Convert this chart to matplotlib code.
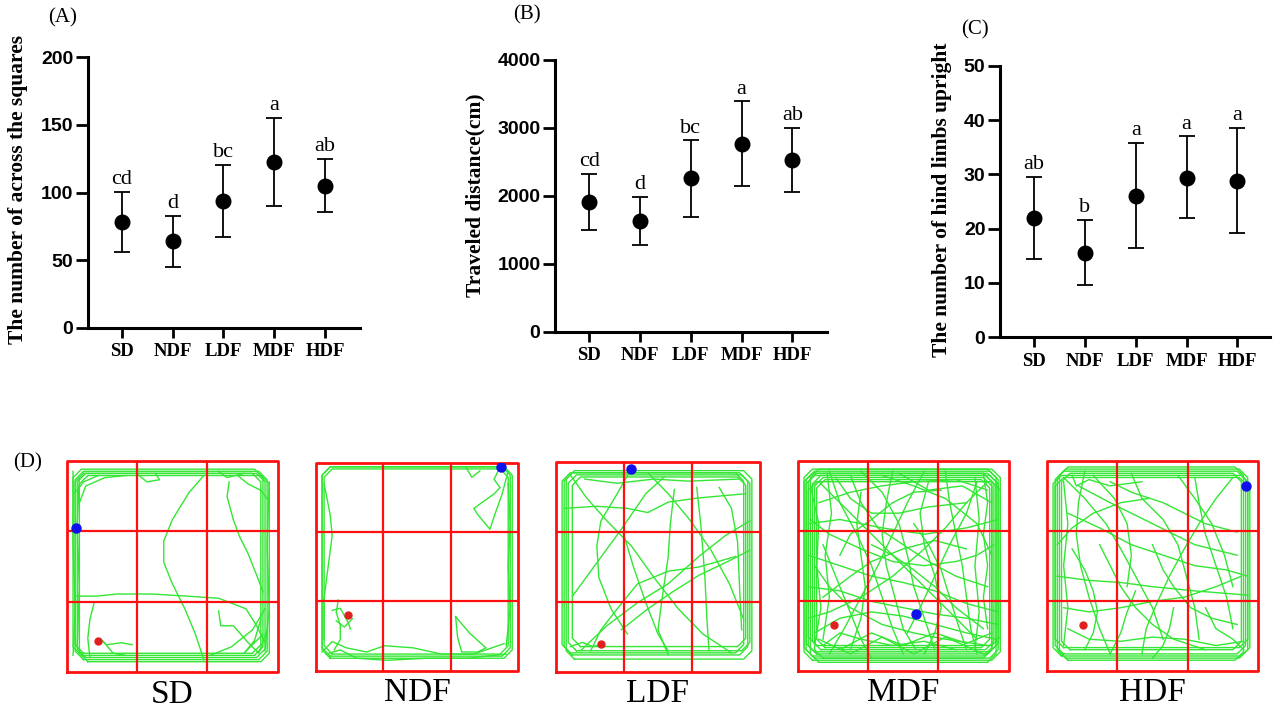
import matplotlib
matplotlib.use("Agg")
import matplotlib.pyplot as plt
import numpy as np

# ---------------- data ----------------
groups = ["SD", "NDF", "LDF", "MDF", "HDF"]

a_mean = [78.5, 64, 93.6, 122.7, 105]
a_hi = [100.7, 83, 120.5, 155, 125]
a_lo = [56.3, 45, 67, 90, 85.5]
a_let = ["cd", "d", "bc", "a", "ab"]

b_mean = [1905, 1630, 2258, 2768, 2523]
b_hi = [2322, 1979, 2818, 3392, 2999]
b_lo = [1497, 1276, 1693, 2150, 2057]
b_let = ["cd", "d", "bc", "a", "ab"]

c_mean = [22.0, 15.6, 26.1, 29.4, 28.8]
c_hi = [29.5, 21.6, 35.8, 37.0, 38.5]
c_lo = [14.5, 9.7, 16.5, 22.0, 19.2]
c_let = ["ab", "b", "a", "a", "a"]

# open-field tracks, percent of arena (x right, y up)
sd_loops = [(4, 6, 95, 95), (5, 7, 94, 94), (6, 5, 96, 93), (3, 8, 93, 96), (4, 9, 92, 94)]
sd_paths = [
    [(65, 93), (58, 85), (50, 72), (46, 62), (46, 52), (50, 42), (56, 30), (61, 18), (65, 6)],
    [(77, 90), (76, 83), (79, 72), (82, 64), (86, 56), (90, 46), (93, 38)],
    [(81, 93), (86, 89), (92, 86), (95, 82)],
    [(4, 36), (14, 36), (24, 37), (40, 37), (57, 36), (72, 35), (85, 30), (90, 22), (94, 14)],
    [(13, 33), (11, 25), (10, 16), (11, 7)],
    [(15, 16), (19, 13), (26, 14), (31, 13)],
    [(17, 15), (22, 9), (28, 8)],
    [(72, 29), (73, 22), (79, 22), (86, 14), (91, 9), (95, 20)],
    [(68, 8), (78, 12), (88, 20), (94, 30)],
    [(72, 95), (76, 92), (84, 94)],
    [(4, 85), (8, 90), (15, 93)],
    [(6, 80), (9, 88), (18, 92), (28, 93)],
    [(33, 94), (38, 90), (44, 91), (42, 94)],
    [(3, 95), (3, 60), (4, 30), (3, 8)],
    [(6, 92), (5, 70), (6, 40), (5, 12)],
    [(96, 90), (95, 60), (96, 30), (94, 10)],
    [(92, 25), (89, 15), (84, 9), (93, 18)],
]
sd_start = (15, 15)
sd_end = (4.5, 68)

ndf_loops = [(3, 7, 96, 98), (4, 8, 95, 97), (3, 6, 97, 98)]
ndf_paths = [
    [(4, 90), (7, 75), (8, 65), (6, 50), (4, 35), (4, 15)],
    [(91, 98), (88, 92), (91, 88), (88, 85), (78, 78), (80, 75), (86, 68), (88, 74), (92, 85), (95, 96)],
    [(74, 98), (77, 93), (81, 96)],
    [(69, 26), (70, 16), (72, 9), (80, 9), (84, 11), (76, 18), (69, 26)],
    [(3, 9), (8, 14), (15, 11), (25, 9), (34, 12), (48, 11), (62, 8), (78, 8), (93, 13)],
    [(5, 8), (12, 10), (20, 6), (35, 5), (55, 6), (75, 6), (94, 8)],
    [(11, 34), (10, 28), (12, 22), (12, 15), (9, 10)],
    [(8, 29), (12, 30), (16, 23), (17, 20)],
    [(10, 24), (14, 21), (18, 25)],
    [(95, 90), (96, 70), (95, 50), (96, 30), (94, 12)],
]
ndf_start = (16, 27)
ndf_end = (91.5, 98)

ldf_loops = [(4, 8, 94, 95), (6, 10, 95, 94), (5, 6, 96, 96), (8, 12, 93, 93), (3, 9, 92, 95)]
ldf_paths = [
    [(7, 94), (15, 83), (25, 72), (37, 60), (48, 45), (60, 30), (72, 18), (86, 9)],
    [(37, 97), (30, 85), (22, 72), (20, 60), (21, 45), (27, 30), (35, 18)],
    [(8, 36), (20, 52), (32, 68), (44, 85), (53, 93)],
    [(58, 87), (56, 70), (55, 55), (52, 35), (50, 20), (55, 8)],
    [(32, 20), (45, 30), (57, 38), (70, 46), (85, 53), (95, 58)],
    [(12, 10), (25, 22), (40, 33), (55, 42), (70, 55), (83, 65), (95, 72)],
    [(69, 88), (71, 70), (73, 45), (74, 25), (75, 10)],
    [(80, 88), (86, 78), (89, 62), (90, 40), (91, 20)],
    [(4, 78), (20, 79), (35, 78), (45, 76), (55, 81), (70, 83), (93, 85)],
    [(33, 66), (38, 50), (44, 33), (50, 18), (55, 10)],
    [(45, 95), (55, 85), (66, 72), (76, 58), (85, 42), (92, 25)],
    [(14, 92), (30, 90), (48, 92), (65, 91), (90, 92)],
    [(17, 10), (22, 20), (30, 30), (40, 42), (55, 48), (70, 50), (88, 55)],
    [(7, 12), (13, 14), (18, 12), (22, 13)],
]
ldf_start = (22, 13)
ldf_end = (37, 97)

mdf_loops = [(4, 6, 95, 95), (5, 8, 94, 94), (7, 10, 93, 93), (3, 5, 96, 96), (6, 4, 94, 96),
             (8, 6, 92, 92), (4, 9, 95, 93), (9, 11, 91, 91), (5, 12, 96, 90), (3, 7, 92, 94)]
mdf_paths = [
    [(10, 90), (25, 75), (40, 60), (55, 45), (70, 30), (85, 15)],
    [(15, 95), (20, 80), (28, 65), (35, 50), (40, 35), (45, 20), (50, 8)],
    [(5, 70), (20, 72), (40, 68), (60, 65), (80, 68), (95, 72)],
    [(30, 95), (40, 85), (48, 70), (52, 55), (55, 40), (60, 25), (65, 10)],
    [(60, 95), (52, 80), (45, 65), (38, 50), (30, 35), (22, 20), (15, 8)],
    [(90, 90), (80, 80), (70, 68), (60, 58), (45, 45), (30, 35), (15, 28), (5, 25)],
    [(5, 55), (20, 50), (35, 45), (50, 42), (65, 38), (80, 32), (95, 28)],
    [(70, 95), (72, 80), (75, 65), (78, 50), (80, 35), (82, 20), (85, 8)],
    [(12, 60), (18, 45), (24, 30), (30, 15), (35, 6)],
    [(85, 90), (80, 75), (72, 60), (65, 45), (58, 30), (52, 18)],
    [(40, 93), (55, 88), (70, 82), (85, 70), (92, 55)],
    [(5, 40), (20, 38), (35, 33), (50, 30), (65, 27), (80, 25), (95, 22)],
    [(25, 93), (30, 80), (38, 68), (50, 60), (62, 52), (75, 45), (90, 40)],
    [(8, 18), (20, 25), (35, 28), (50, 26), (65, 22), (80, 18), (94, 15)],
    [(45, 95), (42, 80), (40, 65), (42, 50), (46, 35), (50, 20), (56, 10)],
    [(93, 60), (85, 55), (75, 52), (60, 50), (45, 52), (30, 58), (15, 65), (6, 72)],
    [(10, 80), (25, 85), (40, 88), (55, 90), (75, 91), (90, 86)],
    [(18, 92), (25, 82), (35, 75), (48, 75), (62, 78), (80, 80)],
    [(55, 70), (62, 60), (68, 48), (72, 35), (76, 22), (80, 10)],
    [(8, 50), (15, 40), (25, 30), (40, 22), (55, 18), (70, 15), (90, 12)],
    [(35, 60), (45, 55), (55, 48), (65, 40), (75, 30), (88, 20)],
    [(25, 10), (30, 25), (32, 40), (30, 55), (28, 70), (30, 85)],
    [(60, 8), (65, 18), (68, 30), (65, 45), (60, 60), (58, 75), (62, 90)],
    [(12, 12), (20, 18), (30, 15), (45, 12), (60, 14), (75, 10)],
    [(88, 94), (90, 80), (88, 65), (90, 50), (88, 35), (90, 20)],
    [(12, 35), (25, 45), (35, 52), (50, 58), (65, 62), (80, 58)],
    [(20, 55), (25, 65), (35, 72), (45, 80), (55, 85), (68, 86)],
    [(6, 88), (10, 70), (9, 50), (11, 30), (8, 12)],
    [(14, 94), (16, 75), (13, 55), (15, 35), (12, 15)],
    [(84, 92), (86, 72), (84, 50), (86, 28), (84, 10)],
    [(20, 10), (35, 18), (50, 12), (65, 18), (80, 13), (92, 18)],
    [(10, 15), (25, 8), (40, 16), (55, 8), (70, 16), (88, 8)],
    [(48, 94), (62, 86), (78, 88), (92, 80)],
]
mdf_start = (17, 22)
mdf_end = (56, 27)

hdf_loops = [(4, 8, 94, 95), (5, 6, 95, 96), (7, 10, 92, 94), (3, 7, 96, 93), (6, 5, 93, 97),
             (4, 11, 95, 92)]
hdf_paths = [
    [(8, 92), (18, 82), (28, 70), (35, 58), (42, 45), (50, 30), (55, 15)],
    [(18, 95), (15, 80), (14, 65), (16, 50), (20, 35), (25, 20), (30, 8)],
    [(30, 90), (40, 85), (55, 80), (65, 75), (75, 70), (90, 66)],
    [(10, 75), (25, 68), (40, 60), (55, 55), (70, 50), (85, 48), (95, 45)],
    [(40, 94), (45, 82), (55, 72), (62, 60), (66, 45), (70, 30), (72, 15)],
    [(62, 93), (70, 82), (78, 70), (84, 55), (88, 40)],
    [(88, 92), (80, 82), (72, 70), (65, 58), (58, 45), (52, 32), (47, 20), (45, 8)],
    [(5, 45), (20, 43), (35, 42), (50, 40), (70, 38), (95, 36)],
    [(8, 30), (20, 28), (35, 30), (50, 33), (65, 35), (80, 40), (92, 45)],
    [(15, 88), (30, 80), (50, 70), (70, 60), (90, 55)],
    [(25, 60), (30, 50), (35, 40), (42, 30), (50, 22), (60, 15), (75, 10)],
    [(10, 20), (20, 15), (35, 14), (50, 16), (65, 15), (80, 12), (93, 14)],
    [(12, 58), (18, 48), (22, 38), (24, 28), (22, 18), (18, 10)],
    [(22, 93), (32, 82), (38, 70), (40, 55), (38, 40)],
    [(75, 30), (80, 20), (88, 15), (93, 10)],
    [(50, 60), (55, 48), (60, 40), (68, 30), (78, 25), (90, 22)],
    [(70, 92), (72, 80), (75, 65), (80, 50), (85, 35), (88, 20)],
    [(5, 60), (12, 68), (22, 75), (35, 80), (48, 82)],
    [(60, 30), (58, 20), (55, 12), (50, 6)],
    [(30, 8), (35, 18), (38, 28), (42, 38)],
    [(8, 90), (10, 70), (8, 50), (10, 30), (8, 12)],
    [(12, 93), (14, 88), (20, 91), (30, 88), (45, 90)],
]
hdf_start = (17, 22)
hdf_end = (94, 88)

# ---------------- figure ----------------
W, H = 1273, 721
fig = plt.figure(figsize=(W / 100, H / 100), dpi=100)
SERIF = ["Liberation Serif", "DejaVu Serif"]
SANS = ["Liberation Sans", "DejaVu Sans"]


def px_rect(l, t, r, b):
    return [l / W, 1 - b / H, (r - l) / W, (b - t) / H]


def dot_panel(rect, mean, hi, lo, lets, ylim, yticks, xlim, ylabel, ylab_pos):
    ax = fig.add_axes(rect)
    x = np.arange(len(groups))
    mean = np.array(mean); hi = np.array(hi); lo = np.array(lo)
    ax.errorbar(x, mean, yerr=[mean - lo, hi - mean], fmt="o", color="black",
                ms=10.5, elinewidth=1.3, capsize=6, capthick=1.3, zorder=3)
    for xi, h, t in zip(x, hi, lets):
        ax.annotate(t, (xi, h), xytext=(0, 2), textcoords="offset points",
                    ha="center", va="bottom", fontsize=16, family=SERIF)
    ax.set_ylim(*ylim)
    ax.set_xlim(*xlim)
    ax.set_yticks(yticks)
    ax.set_xticks(x)
    ax.set_xticklabels(groups, family=SERIF, fontweight="bold", fontsize=13.5)
    for lab in ax.get_yticklabels():
        lab.set_family(SANS); lab.set_fontweight("bold"); lab.set_fontsize(14)
    for s in ["top", "right"]:
        ax.spines[s].set_visible(False)
    for s in ["left", "bottom"]:
        ax.spines[s].set_linewidth(2.2)
    ax.tick_params(axis="y", length=8.5, width=2.0, pad=2)
    ax.tick_params(axis="x", length=7, width=2.0, pad=4)
    ax.patch.set_alpha(0)
    fig.text(ylab_pos[0] / W, 1 - ylab_pos[1] / H, ylabel, rotation=90, ha="center", va="center",
             family=SERIF, fontweight="bold", fontsize=15.5)
    return ax


dot_panel(px_rect(88, 57, 360, 328), a_mean, a_hi, a_lo, a_let, (0, 200), [0, 50, 100, 150, 200],
          (-0.67, 4.69), "The number of across the squares", (18, 190))
dot_panel(px_rect(555, 60, 827, 331.7), b_mean, b_hi, b_lo, b_let, (0, 4000), [0, 1000, 2000, 3000, 4000],
          (-0.67, 4.68), "Traveled distance(cm)", (475, 195))
dot_panel(px_rect(1000, 65.7, 1270, 337.3), c_mean, c_hi, c_lo, c_let, (0, 50), [0, 10, 20, 30, 40, 50],
          (-0.67, 4.64), "The number of hind limbs upright", (942, 200))

for txt, (px, py) in [("(A)", (63, 18)), ("(B)", (527, 15)), ("(C)", (975, 30)), ("(D)", (28, 463))]:
    fig.text(px / W, 1 - py / H, txt, ha="center", va="center", family=SERIF, fontsize=15)

GREEN = "#33e633"
RED = "#ff1010"


def track_panel(rect, loops, paths, start, end, name):
    ax = fig.add_axes(rect)
    ax.set_xlim(0, 100)
    ax.set_ylim(0, 100)
    ax.axis("off")
    for (l, b, r, t) in loops:
        c = 4
        xs = [l + c, r - c, r, r, r - c, l + c, l, l, l + c]
        ys = [b, b, b + c, t - c, t, t, t - c, b + c, b]
        ax.plot(xs, ys, color=GREEN, lw=1.0, solid_joinstyle="round")
    for p in paths:
        xs, ys = zip(*p)
        ax.plot(xs, ys, color=GREEN, lw=1.0, solid_joinstyle="round")
    for v in [100 / 3, 200 / 3]:
        ax.plot([v, v], [0, 100], color=RED, lw=1.6, solid_capstyle="butt")
        ax.plot([0, 100], [v, v], color=RED, lw=1.6, solid_capstyle="butt")
    ax.plot([0, 100, 100, 0, 0], [0, 0, 100, 100, 0], color=RED, lw=2.0, clip_on=False)
    ax.plot(*start, "o", color="#e02020", ms=5, zorder=5)
    ax.plot(*end, "o", color="#1010ee", ms=6.5, zorder=5)
    ax.text(50, -10.5, name, ha="center", va="center", family=SERIF, fontsize=24,
            transform=ax.transData)


track_panel(px_rect(66.7, 460.7, 277.7, 672.3), sd_loops, sd_paths, sd_start, sd_end, "SD")
track_panel(px_rect(316, 462.7, 518.3, 670.7), ndf_loops, ndf_paths, ndf_start, ndf_end, "NDF")
track_panel(px_rect(556, 462.3, 760, 671.7), ldf_loops, ldf_paths, ldf_start, ldf_end, "LDF")
track_panel(px_rect(797.7, 460.7, 1008.7, 670.7), mdf_loops, mdf_paths, mdf_start, mdf_end, "MDF")
track_panel(px_rect(1046.7, 460.7, 1258.3, 670.7), hdf_loops, hdf_paths, hdf_start, hdf_end, "HDF")

fig.savefig("out.png", dpi=100)
